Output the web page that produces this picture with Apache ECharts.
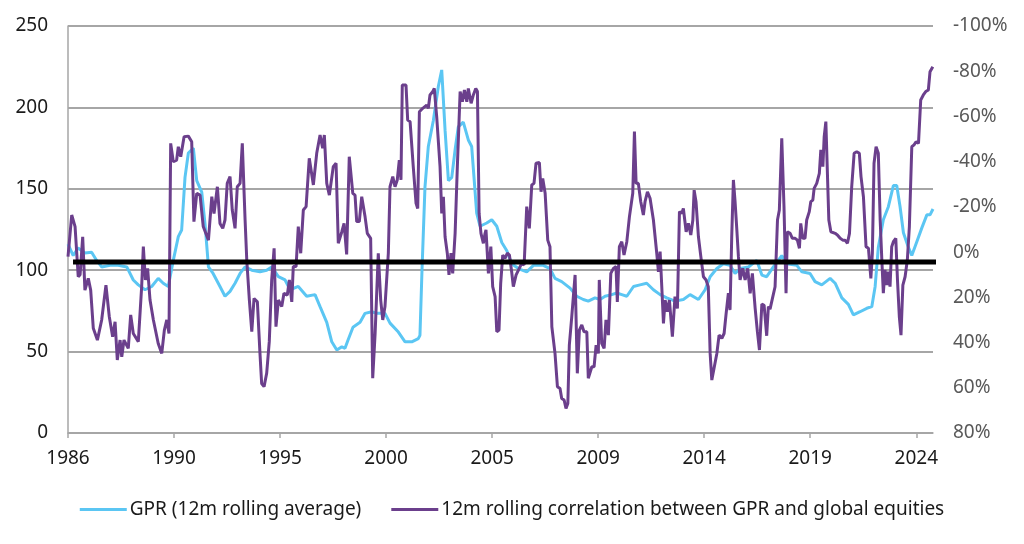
<!DOCTYPE html>
<html>
<head>
<meta charset="utf-8">
<script src="https://cdn.jsdelivr.net/npm/echarts@6/dist/echarts.min.js"></script>
<style>
html,body{margin:0;padding:0;background:#fff;}
#chart{width:1024px;height:544px;}
</style>
</head>
<body>
<div id="chart"></div>
<script>
// x = months since Jan 1986
const xTickMonths = [0, 57, 114, 171, 228, 285, 342, 399, 456];
const xTickLabels = ['1986', '1990', '1995', '2000', '2005', '2009', '2014', '2019', '2024'];
const xMax = 465;

const seriesNames = ['GPR (12m rolling average)', '12m rolling correlation between GPR and global equities'];

// GPR 12m rolling average [month, index]
const gprPoints = [
[0,116],[2.8,109],[5.4,113.6],[9.1,110.6],[12.7,111],[15.4,106],[18.1,102],[22.6,103],[27,103],[31.6,102],
[35.1,94],[37.8,91],[41.4,88],[45,90],[48.5,95],[51.2,92],[53.9,90],[56.6,106],[59.3,120.6],[61.1,124.7],
[62.9,157],[64.7,172],[67.4,175],[69.2,155],[71.9,148],[73.7,128],[75.5,102],[78,98],[81.7,90],[84.4,84],
[87.1,87],[89.8,92],[92.5,98],[95.2,102],[98.8,100],[103.2,99],[106.8,100],[109.5,102],[113.1,96],[116.7,94],
[119.4,88],[123.8,90],[128.3,84],[132.8,85],[135.5,77.6],[139.1,68],[141.8,56],[144.5,51],[147.2,53],[148.9,52],
[150.5,57],[153.2,65],[157,68],[159.7,73.5],[163.3,74.5],[166,73.5],[170.4,73.5],[173.1,67.5],[177.6,62],[181.2,56],
[184.8,56],[188.3,58],[189.2,60],[190.3,100],[191.9,151],[193.7,176],[196.4,192],[199.1,213],[200.9,223],[202.7,186],
[204.5,155],[206.3,157],[208.1,174],[209.8,188],[212.5,191],[215.2,180],[217,176],[219.7,135],[221.5,127],[225.1,129],
[227.8,131],[230.5,127],[233.2,117],[235.9,112],[238.5,104],[242.1,101],[246.6,99],[250.2,103],[255.5,103],[259.1,101],
[261.8,95],[265.4,93],[269.9,89],[273.5,84],[277,82],[279.7,81],[283.3,83],[286,82],[288.7,84],[292.3,85],
[295,86],[297.7,85],[300.4,84],[304,90],[307.5,91],[311.1,92],[314.7,88],[318.3,85],[321.9,83],[326.3,81],
[330.8,82],[334.4,85],[338.9,82],[342.5,88],[345.2,96],[348.8,101],[352.3,104],[355.9,103],[358.6,98],[361.3,101],
[365.8,102],[370.3,106],[373,97],[375.6,96],[379.2,102],[383.7,109],[386.4,104],[391.8,103],[394.5,99],[398.9,98],
[401.6,93],[405.2,91],[409.7,95],[412.4,92],[416,83],[419.5,79],[422.2,72.5],[425.8,74.5],[429.4,76.6],[432.1,77.6],
[433.9,90],[435.6,114],[438.3,131],[441,139],[443.7,152],[445.5,152],[447.3,139],[449.1,123],[451.8,114],[453.6,109],
[456.3,117.5],[459,126],[461.7,134],[463.4,134],[465,137.6]
];

// 12m rolling correlation between GPR and global equities [month, %]
const corrPoints = [
[0,2],[2,-16.4],[3.8,-11.3],[5.5,10.9],[6.5,10],[7.9,-6.8],[9.1,16.8],[10.9,11.6],[12.2,16.8],[13.6,33.7],
[15.8,38.9],[18.1,30],[20.4,14.6],[22.2,28.6],[24,37.4],[25.3,30.8],[26.5,47.7],[28,38.9],[28.9,46.3],[30.1,38.9],
[32.4,42.6],[33.7,27.8],[35.1,36],[37.8,39.6],[39.6,15.3],[40.5,-2.4],[41.6,12.3],[42.8,7.2],[44.1,21.2],[45.9,30],
[48.5,40.4],[50.4,44.8],[51.8,34.5],[53.1,30],[54.3,36],[55.2,-48.1],[56.6,-40],[58.4,-40.7],[59.3,-46.6],[60.6,-42.2],
[62.4,-51],[64.7,-51.3],[66.5,-48.8],[67.7,-13.5],[69.2,-26],[71,-25.2],[72.7,-11.3],[75.5,-5.3],[77.3,-24.5],[78.5,-17.1],
[80.3,-28.9],[81.7,-12.7],[83.2,-10.5],[84.4,-14.2],[85.6,-30.4],[87.1,-33.4],[88.3,-18.6],[89.8,-10.5],[91,-28.9],[92.5,-30.4],
[93.7,-48.1],[95.2,-14.2],[96.1,3.5],[97.5,21.2],[98.8,35.2],[100,20.5],[101.8,22],[103.2,44.8],[104.1,58.1],[105.4,59.5],
[106.8,53.6],[108.2,39.6],[109.5,12.3],[110.8,-1.7],[111.8,33],[113.1,21.2],[114.9,24.1],[116.1,18.2],[117.9,19],[119,12.3],
[120.3,22],[121.1,6.4],[122.6,6.4],[123.8,-11.3],[125.1,0.5],[126.5,-18.6],[128,-20.1],[129.7,-41.5],[131.9,-29.7],[133.7,-43.7],
[135.5,-51.8],[136.9,-45.9],[137.8,-51.8],[139.1,-30.4],[140.5,-25.2],[142.6,-37.8],[144.1,-39.3],[145.3,-3.9],[147.2,-9],[148.4,-12.7],
[149.8,1],[151.2,-42.2],[153.1,-26],[154.3,-25.2],[155.2,-13.5],[156.6,-13.5],[157.9,-24.5],[159.7,-15.6],[160.9,-8.3],[162.7,-6.1],
[163.8,55.8],[165.1,36],[166,36],[166.8,0.5],[168.1,21.2],[169.2,30],[170.4,24.1],[172.2,0.5],[173.1,-28.9],[174.6,-33.4],
[175.8,-28.9],[177,-31.9],[178.1,-40.7],[179,-31.9],[179.7,-73.9],[181.7,-73.9],[182.6,-58.4],[183.9,-57.7],[185.6,-37.8],[187.1,-21.6],
[188,-19.3],[188.9,-62.1],[190.7,-63.6],[192.8,-65],[193.7,-63.6],[194.6,-69.5],[196.1,-71],[196.9,-72.4],[198.2,-59.9],[199.1,-59.9],
[200,-37.8],[200.9,-17.1],[201.8,-24.5],[202.7,-6.8],[203.9,0.5],[204.8,10.1],[205.9,0.5],[206.8,9.4],[208.1,-8.3],[209.3,-37.8],
[210.8,-71],[212,-66.5],[213.1,-71.7],[214.4,-66.5],[215.2,-72.4],[216.7,-65.8],[217.9,-69.5],[219.2,-72.4],[220.1,-71],[221,-17.1],
[222,-8.3],[223.3,-3.9],[224.2,-8.3],[224.7,-9.8],[226,9.4],[227.3,-2.4],[228.3,15.3],[229.6,19.7],[230.5,35.2],[231.7,34.5],
[232.6,13.8],[233.7,1.3],[234.9,2.8],[236.2,0.5],[237.3,1.3],[238.5,8.7],[239.4,15.3],[240.9,10.1],[242.6,7.2],[243.9,5],
[245.2,5.7],[246.6,-20.1],[248,-10.5],[249.3,-29.7],[250.5,-30.4],[251.6,-39.3],[253.4,-39.6],[254.3,-26.7],[255.2,-32.6],[256.5,-26],
[257.9,-5.3],[259.1,-2.4],[260.1,33],[261.8,44.8],[263.1,59.5],[264.5,60.3],[265.4,64.7],[266.7,65.4],[267.7,69.1],[268.7,66.9],
[269.5,41.1],[270.8,28.6],[272.6,10.1],[273.8,53.6],[274.9,34.5],[276.2,32.2],[277.4,35.2],[278.9,35.2],[279.7,55.8],[281.6,50.7],
[282.8,50.7],[283.9,41.1],[285.1,44.8],[285.6,12.3],[286.9,40.4],[288.2,42.6],[289.2,30],[290.5,36.7],[291.8,9.4],[293.2,7.2],
[294.6,6.4],[295.3,22],[296.4,-2.4],[297.7,-4.6],[298.9,1.3],[300.4,-4.6],[301.8,-15.6],[303.6,-26],[304.5,-53.3],[305.4,-30.4],
[306.6,-30.4],[307.9,-22.3],[309.3,-16.4],[310.2,-22.3],[311.5,-26.7],[312.9,-23.8],[314.7,-14.2],[316.5,0.5],[317.4,8.7],[318.3,-0.2],
[319.2,15.3],[320.1,31.5],[321,21.2],[322.2,26.4],[323.3,21.2],[324.9,37.4],[326.3,19.7],[327.6,24.9],[328.7,-17.9],[329.9,-17.1],
[330.8,-19.3],[332.3,-9],[333.5,-12.7],[334.8,-7.6],[335.9,-14.2],[336.6,-27.4],[337.6,-22.3],[338.9,-6.8],[340.2,2],[341.6,10.9],
[343,12.3],[344.2,15.3],[345.2,44.8],[346.1,56.6],[347.3,51.4],[348.8,44.8],[350,36.7],[351.5,38.1],[352.7,36],[353.8,27.1],
[355,18.2],[355.9,25.6],[356.8,-6.8],[357.7,-31.9],[358.6,-22.3],[359.5,-10.5],[360.4,2],[361.3,12.3],[362.7,7.2],[364,12.3],
[365.4,7.2],[366.7,18.2],[367.9,9.4],[369.4,24.9],[370.6,35.2],[371.7,43.3],[373,23],[374.2,23.5],[375.6,37],[376.5,24.1],
[377.4,25.2],[378.9,19.7],[380.1,15.3],[381.4,-14.2],[382.4,-18.6],[383.7,-50.3],[384.9,-20.1],[386,18.2],[386.7,-9],[388.2,-8.3],
[389.4,-6.1],[390.9,-6.1],[392.1,-5.3],[393.2,-1.7],[393.9,-12.7],[395,-6.1],[396.2,-6.1],[397.1,-14.2],[398.5,-17.9],[399.3,-22.3],
[400.4,-23],[401.1,-28.2],[402.5,-30.4],[403.9,-34.8],[404.7,-45.2],[405.8,-37.8],[406.5,-51],[407.4,-57.7],[408.2,-57],[409,-14.2],
[410.1,-9],[411.1,-9.8],[412.4,-8.3],[413.6,-7.6],[415.1,-6.1],[416.5,-5.3],[417.7,-5.3],[419,-3.9],[420.1,-8.3],[421.3,-28.9],
[422.6,-43.7],[424,-44.4],[425.4,-43.7],[426.3,-33.4],[427.6,-24.5],[429,-2.4],[430.3,-1.7],[431.6,11.6],[432.4,0.5],[433.3,-39.3],
[434.4,-46.6],[435.6,-43.7],[436.6,-14.2],[437.5,3.5],[438.3,18.2],[439.2,7.9],[440.2,14.6],[441,8.7],[441.9,15.3],[442.8,-2.4],
[443.7,-4.6],[445,-6.1],[445.9,12.3],[446.9,28.6],[447.8,36.7],[448.8,14.6],[450,10.9],[451.2,3.5],[452.3,-11.3],[453.6,-46.6],
[454.8,-47.4],[455.9,-48.8],[457.2,-48.1],[458.4,-67.3],[459.8,-69.5],[461.1,-71],[462.5,-71.7],[463.4,-79.8],[464.9,-82]
];

// horizontal reference line (GPR index level)
const thresholdValue = 105;
const thresholdRange = [2.7, 467.7];

const textColor = '#1a1a1a';
const rightTextColor = '#595959';
const gridColor = '#a6a6a6';
const font = 'Noto Sans';

const chart = echarts.init(document.getElementById('chart'), null, {renderer: 'canvas'});
chart.setOption({
  animation: false,
  backgroundColor: '#ffffff',
  textStyle: {fontFamily: font},
  grid: {left: 68, right: 91, top: 26, bottom: 111, containLabel: false},
  legend: {
    data: seriesNames,
    left: 'center',
    top: 495,
    icon: 'rect',
    itemWidth: 47,
    itemHeight: 3,
    itemGap: 30,
    textStyle: {fontFamily: font, fontSize: 19, color: textColor, padding: [0, 0, 0, -2]}
  },
  xAxis: {
    type: 'value',
    min: 0,
    max: xMax,
    interval: 57,
    splitLine: {show: false},
    axisLine: {show: true, lineStyle: {color: gridColor, width: 1.5}},
    axisTick: {show: true, length: 5, lineStyle: {color: gridColor, width: 1.5}, customValues: xTickMonths},
    axisLabel: {
      customValues: xTickMonths,
      margin: 16,
      fontSize: 19,
      color: textColor,
      fontFamily: font,
      formatter: function (v) {
        const i = xTickMonths.indexOf(v);
        return i >= 0 ? xTickLabels[i] : '';
      }
    }
  },
  yAxis: [
    {
      type: 'value',
      min: 0, max: 250, interval: 50,
      axisLine: {show: true, lineStyle: {color: gridColor, width: 1.5}},
      axisTick: {show: false},
      splitLine: {show: true, lineStyle: {color: gridColor, width: 1.8}},
      axisLabel: {fontSize: 19, color: textColor, fontFamily: font, margin: 20}
    },
    {
      type: 'value',
      min: -100, max: 80, interval: 20,
      inverse: true,
      position: 'right',
      axisLine: {show: false},
      axisTick: {show: false},
      splitLine: {show: false},
      axisLabel: {fontSize: 19, color: rightTextColor, fontFamily: font, margin: 20, formatter: function (v) { return v + '%'; }}
    }
  ],
  series: [
    {
      name: seriesNames[0],
      type: 'line',
      yAxisIndex: 0,
      data: gprPoints,
      showSymbol: false,
      symbol: 'none',
      lineStyle: {color: '#5bc6f3', width: 3},
      itemStyle: {color: '#5bc6f3'},
      z: 2
    },
    {
      name: seriesNames[1],
      type: 'line',
      yAxisIndex: 1,
      data: corrPoints,
      showSymbol: false,
      symbol: 'none',
      lineStyle: {color: '#6b3f8c', width: 3},
      itemStyle: {color: '#6b3f8c'},
      z: 3
    },
    {
      name: 'threshold',
      type: 'line',
      yAxisIndex: 0,
      data: [[thresholdRange[0], thresholdValue], [thresholdRange[1], thresholdValue]],
      showSymbol: false,
      symbol: 'none',
      clip: false,
      lineStyle: {color: '#000000', width: 5},
      z: 4
    }
  ]
});
</script>
</body>
</html>
